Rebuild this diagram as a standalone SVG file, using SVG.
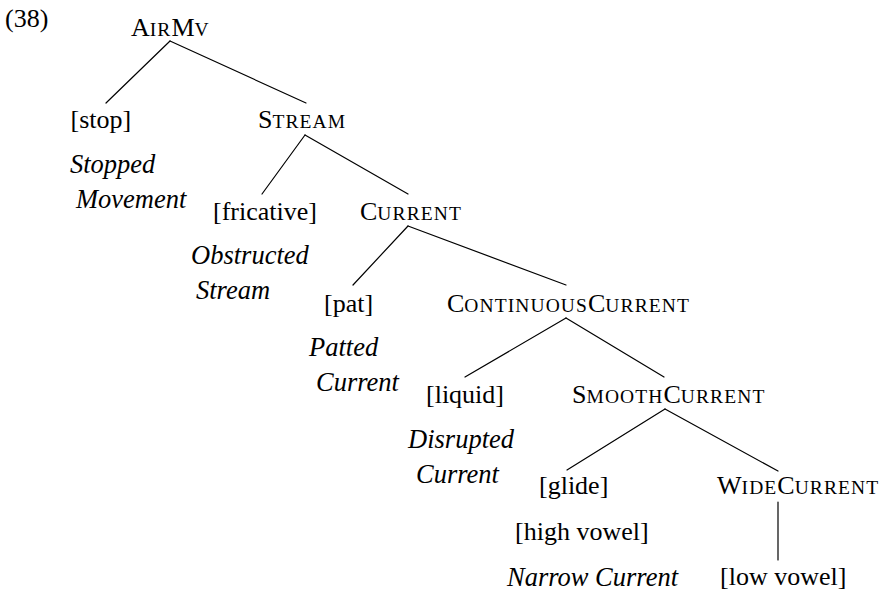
<svg xmlns="http://www.w3.org/2000/svg" width="884" height="591" viewBox="0 0 884 591">
  <style>
    text { font-family: "Liberation Serif", "Times New Roman", Times, serif; font-size: 26px; fill: #000; }
    .it { font-style: italic; font-size: 26.5px; }
    .sc { font-size: 19.5px; letter-spacing: 1.1px; }
    .edge { stroke: #000; stroke-width: 1.2; fill: none; stroke-linecap: round; }
  </style>
  <rect width="884" height="591" fill="#fff"/>

  <text id="ex-number" x="5" y="27">(38)</text>

  <!-- tree branches -->
  <g id="connectors">
    <line class="edge" x1="170" y1="41" x2="106" y2="103"/>
    <line class="edge" x1="170" y1="41" x2="306" y2="103"/>
    <line class="edge" x1="305" y1="135" x2="262" y2="194"/>
    <line class="edge" x1="305" y1="135" x2="408" y2="194"/>
    <line class="edge" x1="408" y1="226" x2="353" y2="285"/>
    <line class="edge" x1="408" y1="226" x2="566" y2="285"/>
    <line class="edge" x1="566" y1="318" x2="465" y2="377"/>
    <line class="edge" x1="566" y1="318" x2="664" y2="377"/>
    <line class="edge" x1="665" y1="409" x2="567" y2="470"/>
    <line class="edge" x1="665" y1="409" x2="778" y2="471"/>
    <line class="edge" x1="778" y1="502" x2="778" y2="560"/>
  </g>

  <g id="airmv"><text x="131" y="36">A<tspan class="sc">IR</tspan>M<tspan class="sc">V</tspan></text></g>

  <g id="stop">
    <text x="70.5" y="128">[stop]</text>
    <text class="it" x="70" y="173">Stopped</text>
    <text class="it" x="76" y="208">Movement</text>
  </g>

  <g id="stream"><text x="258" y="128">S<tspan class="sc">TREAM</tspan></text></g>

  <g id="fricative">
    <text x="213" y="220">[fricative]</text>
    <text class="it" x="191" y="264">Obstructed</text>
    <text class="it" x="196" y="299">Stream</text>
  </g>

  <g id="current"><text x="360" y="220">C<tspan class="sc">URRENT</tspan></text></g>

  <g id="pat">
    <text x="324" y="312">[pat]</text>
    <text class="it" x="309" y="356">Patted</text>
    <text class="it" x="316" y="391">Current</text>
  </g>

  <g id="continuous-current"><text x="447" y="312">C<tspan class="sc">ONTINUOUS</tspan>C<tspan class="sc">URRENT</tspan></text></g>

  <g id="liquid">
    <text x="426" y="403">[liquid]</text>
    <text class="it" x="408" y="448">Disrupted</text>
    <text class="it" x="416" y="483">Current</text>
  </g>

  <g id="smooth-current"><text x="572" y="403">S<tspan class="sc">MOOTH</tspan>C<tspan class="sc">URRENT</tspan></text></g>

  <g id="glide">
    <text x="539" y="494">[glide]</text>
    <text x="515" y="540">[high vowel]</text>
    <text class="it" x="507" y="586">Narrow Current</text>
  </g>

  <g id="wide-current"><text x="717" y="494">W<tspan class="sc">IDE</tspan>C<tspan class="sc">URRENT</tspan></text></g>

  <g id="low-vowel"><text x="720" y="585">[low vowel]</text></g>
</svg>
